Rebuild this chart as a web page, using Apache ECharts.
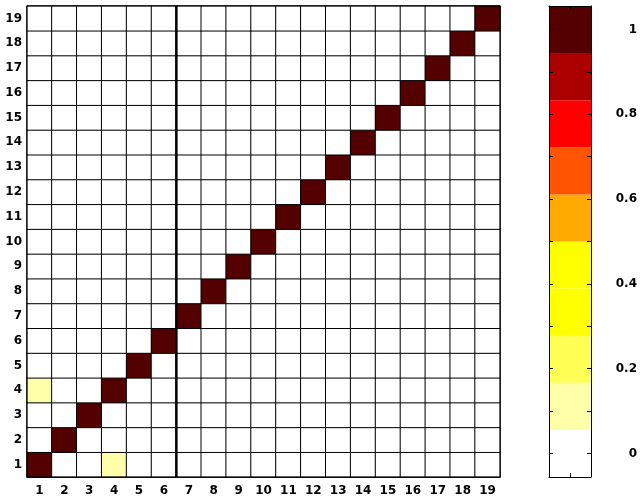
<!DOCTYPE html>
<html>
<head>
<meta charset="utf-8">
<script src="https://cdn.jsdelivr.net/npm/echarts@6/dist/echarts.min.js"></script>
<style>html,body{margin:0;padding:0;background:#fff;}#c{width:640px;height:501px;}</style>
</head>
<body>
<div id="c"></div>
<script>
// ---- data ----
const categories = ['1','2','3','4','5','6','7','8','9','10','11','12','13','14','15','16','17','18','19'];
// matrix[row y-1][col x-1]
const matrix = [
  [1,0,0,0.1,0,0,0,0,0,0,0,0,0,0,0,0,0,0,0],
  [0,1,0,0,0,0,0,0,0,0,0,0,0,0,0,0,0,0,0],
  [0,0,1,0,0,0,0,0,0,0,0,0,0,0,0,0,0,0,0],
  [0.1,0,0,1,0,0,0,0,0,0,0,0,0,0,0,0,0,0,0],
  [0,0,0,0,1,0,0,0,0,0,0,0,0,0,0,0,0,0,0],
  [0,0,0,0,0,1,0,0,0,0,0,0,0,0,0,0,0,0,0],
  [0,0,0,0,0,0,1,0,0,0,0,0,0,0,0,0,0,0,0],
  [0,0,0,0,0,0,0,1,0,0,0,0,0,0,0,0,0,0,0],
  [0,0,0,0,0,0,0,0,1,0,0,0,0,0,0,0,0,0,0],
  [0,0,0,0,0,0,0,0,0,1,0,0,0,0,0,0,0,0,0],
  [0,0,0,0,0,0,0,0,0,0,1,0,0,0,0,0,0,0,0],
  [0,0,0,0,0,0,0,0,0,0,0,1,0,0,0,0,0,0,0],
  [0,0,0,0,0,0,0,0,0,0,0,0,1,0,0,0,0,0,0],
  [0,0,0,0,0,0,0,0,0,0,0,0,0,1,0,0,0,0,0],
  [0,0,0,0,0,0,0,0,0,0,0,0,0,0,1,0,0,0,0],
  [0,0,0,0,0,0,0,0,0,0,0,0,0,0,0,1,0,0,0],
  [0,0,0,0,0,0,0,0,0,0,0,0,0,0,0,0,1,0,0],
  [0,0,0,0,0,0,0,0,0,0,0,0,0,0,0,0,0,1,0],
  [0,0,0,0,0,0,0,0,0,0,0,0,0,0,0,0,0,0,1]
];
const dividerAfter = 6.5; // thick line between column 6 and 7
const bandEdges = [-1/18, 1/18, 3/18, 5/18, 7/18, 9/18, 11/18, 13/18, 15/18, 17/18, 19/18];
const colorbarTicks = [0, 0.1, 0.2, 0.3, 0.4, 0.5, 0.6, 0.7, 0.8, 0.9, 1];
const colorbarLabels = [0, 0.2, 0.4, 0.6, 0.8, 1];

// ---- styles ----
const bandColors = ['#ffffff','#ffffaa','#ffff55','#ffff00','#ffff00','#ffaa00','#ff5500','#ff0000','#aa0000','#550000'];
const font = {color:'#000', fontFamily:'DejaVu Sans', fontWeight:'bold', fontSize:12};

const heatData = [];
for (let r = 0; r < matrix.length; r++) {
  for (let c = 0; c < matrix[r].length; c++) {
    heatData.push([c, r, matrix[r][c]]);
  }
}
const pieces = [];
const bands = [];
for (let i = 0; i < bandColors.length; i++) {
  pieces.push({gte: bandEdges[i], lt: bandEdges[i+1], color: bandColors[i]});
  bands.push([bandEdges[i], bandEdges[i+1], i]);
}

const chart = echarts.init(document.getElementById('c'), null, {renderer:'canvas'});
const cbLine = {show: true, onZero: false, lineStyle: {color: '#000'}};
const cbTick = {show: true, inside: true, length: 4, lineStyle: {color: '#000'}};
chart.setOption({
  animation: false,
  backgroundColor: '#fff',
  grid: [
    {left: 27, top: 6, width: 473, height: 471, show: true, borderColor: '#000', borderWidth: 1, z: 10},
    {left: 549, top: 6, width: 44, height: 471}
  ],
  visualMap: {type: 'piecewise', show: false, seriesIndex: 0, dimension: 2, pieces: pieces},
  xAxis: [
    {gridIndex: 0, type: 'category', data: categories, axisTick: {show: false},
     axisLine: {lineStyle: {color: '#000'}}, axisLabel: Object.assign({margin: 8, interval: 0}, font), splitLine: {show: false}},
    {gridIndex: 0, type: 'value', min: 0.5, max: 19.5, show: false},
    {gridIndex: 1, type: 'value', min: 0, max: 2, interval: 1, position: 'bottom', z: 10,
     axisLine: cbLine, axisTick: cbTick, axisLabel: {show: false}, splitLine: {show: false}},
    {gridIndex: 1, type: 'value', min: 0, max: 2, interval: 1, position: 'top', z: 10,
     axisLine: cbLine, axisTick: cbTick, axisLabel: {show: false}, splitLine: {show: false}}
  ],
  yAxis: [
    {gridIndex: 0, type: 'category', data: categories, axisTick: {show: false},
     axisLine: {lineStyle: {color: '#000'}}, axisLabel: Object.assign({margin: 5, interval: 0}, font), splitLine: {show: false}},
    {gridIndex: 0, type: 'value', min: 0.5, max: 19.5, show: false},
    {gridIndex: 1, type: 'value', min: bandEdges[0], max: bandEdges[bandEdges.length-1], position: 'right', z: 10,
     axisLine: cbLine, axisTick: Object.assign({customValues: colorbarTicks}, cbTick),
     axisLabel: Object.assign({margin: 46, align: 'right', customValues: colorbarLabels}, font),
     splitLine: {show: false}},
    {gridIndex: 1, type: 'value', min: bandEdges[0], max: bandEdges[bandEdges.length-1], position: 'left', z: 10,
     axisLine: cbLine, axisTick: Object.assign({customValues: colorbarTicks}, cbTick),
     axisLabel: {show: false}, splitLine: {show: false}}
  ],
  series: [
    {type: 'heatmap', xAxisIndex: 0, yAxisIndex: 0, data: heatData,
     itemStyle: {borderColor: '#000', borderWidth: 1}, emphasis: {disabled: true}, progressive: 0},
    {type: 'line', xAxisIndex: 1, yAxisIndex: 1, data: [[dividerAfter, 0.5], [dividerAfter, 19.5]],
     symbol: 'none', lineStyle: {color: '#000', width: 2.5}, z: 12, silent: true},
    {type: 'custom', xAxisIndex: 2, yAxisIndex: 2, data: bands, silent: true,
     renderItem: function (params, api) {
       const p1 = api.coord([0, api.value(1)]);
       const p2 = api.coord([2, api.value(0)]);
       return {type: 'rect', shape: {x: p1[0], y: p1[1], width: p2[0]-p1[0], height: p2[1]-p1[1]},
               style: {fill: bandColors[api.value(2)]}};
     }}
  ]
});
</script>
</body>
</html>
